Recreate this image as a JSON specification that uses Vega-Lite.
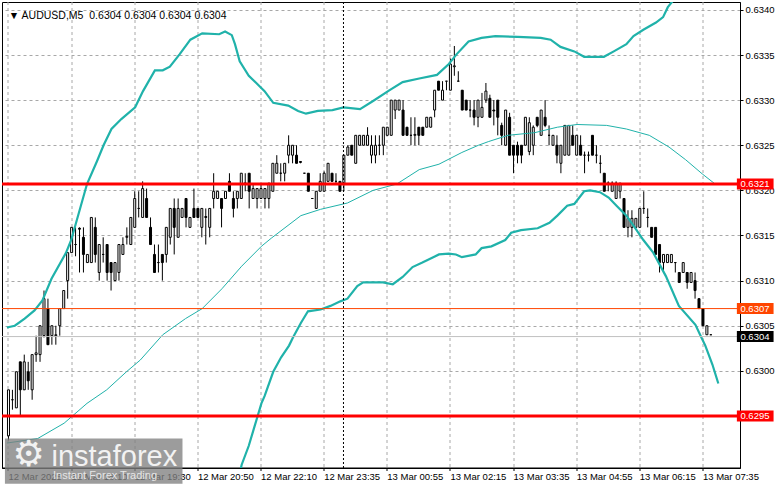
{
"$schema": "https://vega.github.io/schema/vega-lite/v6.json",
"width": 738, "height": 466,
"autosize": {"type": "none"},
"padding": {"left": 2, "top": 2, "right": 41, "bottom": 21},
"background": "white",
"config": {"view": {"stroke": "black", "strokeWidth": 1}, "font": "Liberation Sans"},
"datasets": {
"candles": [
{"i":0,"o":0.62928,"h":0.62979,"l":0.62923,"c":0.62979},
{"i":1,"o":0.62968,"h":0.62979,"l":0.62957,"c":0.62968},
{"i":2,"o":0.62959,"h":0.62999,"l":0.62959,"c":0.62999},
{"i":3,"o":0.63010,"h":0.63010,"l":0.62950,"c":0.62979},
{"i":4,"o":0.62979,"h":0.63018,"l":0.62979,"c":0.63010},
{"i":5,"o":0.62999,"h":0.63010,"l":0.62979,"c":0.62989},
{"i":6,"o":0.62979,"h":0.63018,"l":0.62968,"c":0.63018},
{"i":7,"o":0.63018,"h":0.63039,"l":0.63010,"c":0.63020},
{"i":8,"o":0.63018,"h":0.63050,"l":0.63010,"c":0.63050},
{"i":9,"o":0.63039,"h":0.63089,"l":0.63037,"c":0.63080},
{"i":10,"o":0.63069,"h":0.63080,"l":0.63029,"c":0.63029},
{"i":11,"o":0.63039,"h":0.63050,"l":0.63029,"c":0.63050},
{"i":12,"o":0.63039,"h":0.63050,"l":0.63029,"c":0.63040},
{"i":13,"o":0.63050,"h":0.63069,"l":0.63039,"c":0.63069},
{"i":14,"o":0.63069,"h":0.63089,"l":0.63069,"c":0.63089},
{"i":15,"o":0.63100,"h":0.63131,"l":0.63080,"c":0.63131},
{"i":16,"o":0.63131,"h":0.63159,"l":0.63131,"c":0.63159},
{"i":17,"o":0.63140,"h":0.63159,"l":0.63127,"c":0.63140},
{"i":18,"o":0.63158,"h":0.63159,"l":0.63109,"c":0.63157},
{"i":19,"o":0.63148,"h":0.63159,"l":0.63109,"c":0.63129},
{"i":20,"o":0.63120,"h":0.63129,"l":0.63120,"c":0.63129},
{"i":21,"o":0.63120,"h":0.63170,"l":0.63120,"c":0.63170},
{"i":22,"o":0.63159,"h":0.63170,"l":0.63120,"c":0.63129},
{"i":23,"o":0.63109,"h":0.63140,"l":0.63100,"c":0.63140},
{"i":24,"o":0.63129,"h":0.63148,"l":0.63120,"c":0.63129},
{"i":25,"o":0.63140,"h":0.63140,"l":0.63100,"c":0.63109},
{"i":26,"o":0.63120,"h":0.63120,"l":0.63089,"c":0.63109},
{"i":27,"o":0.63100,"h":0.63120,"l":0.63100,"c":0.63120},
{"i":28,"o":0.63109,"h":0.63140,"l":0.63100,"c":0.63140},
{"i":29,"o":0.63129,"h":0.63148,"l":0.63129,"c":0.63140},
{"i":30,"o":0.63148,"h":0.63159,"l":0.63140,"c":0.63149},
{"i":31,"o":0.63140,"h":0.63170,"l":0.63140,"c":0.63170},
{"i":32,"o":0.63159,"h":0.63199,"l":0.63159,"c":0.63191},
{"i":33,"o":0.63180,"h":0.63199,"l":0.63170,"c":0.63180},
{"i":34,"o":0.63170,"h":0.63210,"l":0.63170,"c":0.63202},
{"i":35,"o":0.63191,"h":0.63202,"l":0.63170,"c":0.63170},
{"i":36,"o":0.63159,"h":0.63170,"l":0.63140,"c":0.63140},
{"i":37,"o":0.63129,"h":0.63140,"l":0.63109,"c":0.63109},
{"i":38,"o":0.63120,"h":0.63140,"l":0.63109,"c":0.63120},
{"i":39,"o":0.63129,"h":0.63129,"l":0.63100,"c":0.63120},
{"i":40,"o":0.63129,"h":0.63159,"l":0.63120,"c":0.63159},
{"i":41,"o":0.63148,"h":0.63180,"l":0.63140,"c":0.63180},
{"i":42,"o":0.63180,"h":0.63191,"l":0.63129,"c":0.63159},
{"i":43,"o":0.63148,"h":0.63191,"l":0.63148,"c":0.63180},
{"i":44,"o":0.63170,"h":0.63180,"l":0.63170,"c":0.63180},
{"i":45,"o":0.63191,"h":0.63191,"l":0.63159,"c":0.63170},
{"i":46,"o":0.63159,"h":0.63170,"l":0.63159,"c":0.63170},
{"i":47,"o":0.63180,"h":0.63202,"l":0.63170,"c":0.63170},
{"i":48,"o":0.63180,"h":0.63180,"l":0.63170,"c":0.63170},
{"i":49,"o":0.63159,"h":0.63180,"l":0.63148,"c":0.63180},
{"i":50,"o":0.63171,"h":0.63180,"l":0.63140,"c":0.63170},
{"i":51,"o":0.63159,"h":0.63180,"l":0.63148,"c":0.63180},
{"i":52,"o":0.63191,"h":0.63219,"l":0.63180,"c":0.63199},
{"i":53,"o":0.63191,"h":0.63199,"l":0.63191,"c":0.63199},
{"i":54,"o":0.63191,"h":0.63191,"l":0.63159,"c":0.63180},
{"i":55,"o":0.63191,"h":0.63199,"l":0.63191,"c":0.63199},
{"i":56,"o":0.63210,"h":0.63219,"l":0.63199,"c":0.63199},
{"i":57,"o":0.63191,"h":0.63199,"l":0.63170,"c":0.63180},
{"i":58,"o":0.63191,"h":0.63199,"l":0.63180,"c":0.63199},
{"i":59,"o":0.63191,"h":0.63219,"l":0.63191,"c":0.63219},
{"i":60,"o":0.63208,"h":0.63219,"l":0.63199,"c":0.63208},
{"i":61,"o":0.63219,"h":0.63219,"l":0.63180,"c":0.63199},
{"i":62,"o":0.63191,"h":0.63208,"l":0.63191,"c":0.63202},
{"i":63,"o":0.63191,"h":0.63202,"l":0.63180,"c":0.63202},
{"i":64,"o":0.63191,"h":0.63208,"l":0.63191,"c":0.63202},
{"i":65,"o":0.63191,"h":0.63202,"l":0.63180,"c":0.63202},
{"i":66,"o":0.63191,"h":0.63208,"l":0.63180,"c":0.63208},
{"i":67,"o":0.63199,"h":0.63230,"l":0.63199,"c":0.63230},
{"i":68,"o":0.63219,"h":0.63239,"l":0.63219,"c":0.63230},
{"i":69,"o":0.63219,"h":0.63230,"l":0.63210,"c":0.63219},
{"i":70,"o":0.63219,"h":0.63230,"l":0.63210,"c":0.63230},
{"i":71,"o":0.63239,"h":0.63261,"l":0.63230,"c":0.63250},
{"i":72,"o":0.63239,"h":0.63250,"l":0.63230,"c":0.63250},
{"i":73,"o":0.63239,"h":0.63250,"l":0.63230,"c":0.63230},
{"i":74,"o":0.63232,"h":0.63232,"l":0.63230,"c":0.63231},
{"i":75,"o":0.63219,"h":0.63219,"l":0.63219,"c":0.63219},
{"i":76,"o":0.63219,"h":0.63219,"l":0.63199,"c":0.63199},
{"i":77,"o":0.63191,"h":0.63191,"l":0.63191,"c":0.63191},
{"i":78,"o":0.63180,"h":0.63199,"l":0.63180,"c":0.63199},
{"i":79,"o":0.63199,"h":0.63219,"l":0.63199,"c":0.63210},
{"i":80,"o":0.63199,"h":0.63221,"l":0.63199,"c":0.63219},
{"i":81,"o":0.63210,"h":0.63230,"l":0.63210,"c":0.63230},
{"i":82,"o":0.63219,"h":0.63219,"l":0.63210,"c":0.63210},
{"i":83,"o":0.63210,"h":0.63219,"l":0.63208,"c":0.63210},
{"i":84,"o":0.63210,"h":0.63210,"l":0.63199,"c":0.63199},
{"i":85,"o":0.63207,"h":0.63239,"l":0.63199,"c":0.63239},
{"i":86,"o":0.63239,"h":0.63250,"l":0.63239,"c":0.63248},
{"i":87,"o":0.63250,"h":0.63250,"l":0.63239,"c":0.63239},
{"i":88,"o":0.63230,"h":0.63261,"l":0.63230,"c":0.63261},
{"i":89,"o":0.63250,"h":0.63261,"l":0.63250,"c":0.63261},
{"i":90,"o":0.63250,"h":0.63261,"l":0.63250,"c":0.63261},
{"i":91,"o":0.63250,"h":0.63270,"l":0.63250,"c":0.63261},
{"i":92,"o":0.63239,"h":0.63261,"l":0.63230,"c":0.63250},
{"i":93,"o":0.63239,"h":0.63261,"l":0.63230,"c":0.63250},
{"i":94,"o":0.63250,"h":0.63261,"l":0.63239,"c":0.63250},
{"i":95,"o":0.63250,"h":0.63270,"l":0.63239,"c":0.63270},
{"i":96,"o":0.63261,"h":0.63270,"l":0.63261,"c":0.63270},
{"i":97,"o":0.63261,"h":0.63300,"l":0.63261,"c":0.63300},
{"i":98,"o":0.63289,"h":0.63300,"l":0.63279,"c":0.63300},
{"i":99,"o":0.63289,"h":0.63300,"l":0.63289,"c":0.63300},
{"i":100,"o":0.63289,"h":0.63300,"l":0.63261,"c":0.63261},
{"i":101,"o":0.63270,"h":0.63270,"l":0.63261,"c":0.63261},
{"i":102,"o":0.63261,"h":0.63281,"l":0.63250,"c":0.63261},
{"i":103,"o":0.63261,"h":0.63281,"l":0.63250,"c":0.63262},
{"i":104,"o":0.63270,"h":0.63270,"l":0.63250,"c":0.63261},
{"i":105,"o":0.63270,"h":0.63270,"l":0.63261,"c":0.63261},
{"i":106,"o":0.63270,"h":0.63281,"l":0.63270,"c":0.63281},
{"i":107,"o":0.63270,"h":0.63281,"l":0.63270,"c":0.63281},
{"i":108,"o":0.63289,"h":0.63311,"l":0.63281,"c":0.63311},
{"i":109,"o":0.63321,"h":0.63321,"l":0.63311,"c":0.63311},
{"i":110,"o":0.63300,"h":0.63321,"l":0.63300,"c":0.63311},
{"i":111,"o":0.63321,"h":0.63321,"l":0.63311,"c":0.63321},
{"i":112,"o":0.63311,"h":0.63346,"l":0.63311,"c":0.63340},
{"i":113,"o":0.63337,"h":0.63360,"l":0.63327,"c":0.63338},
{"i":114,"o":0.63321,"h":0.63332,"l":0.63321,"c":0.63321},
{"i":115,"o":0.63311,"h":0.63311,"l":0.63289,"c":0.63289},
{"i":116,"o":0.63300,"h":0.63300,"l":0.63289,"c":0.63289},
{"i":117,"o":0.63289,"h":0.63300,"l":0.63281,"c":0.63289},
{"i":118,"o":0.63289,"h":0.63300,"l":0.63272,"c":0.63281},
{"i":119,"o":0.63281,"h":0.63300,"l":0.63270,"c":0.63300},
{"i":120,"o":0.63281,"h":0.63308,"l":0.63281,"c":0.63292},
{"i":121,"o":0.63300,"h":0.63319,"l":0.63297,"c":0.63310},
{"i":122,"o":0.63302,"h":0.63306,"l":0.63281,"c":0.63281},
{"i":123,"o":0.63289,"h":0.63300,"l":0.63272,"c":0.63288},
{"i":124,"o":0.63300,"h":0.63300,"l":0.63261,"c":0.63281},
{"i":125,"o":0.63272,"h":0.63275,"l":0.63250,"c":0.63261},
{"i":126,"o":0.63250,"h":0.63289,"l":0.63250,"c":0.63289},
{"i":127,"o":0.63281,"h":0.63286,"l":0.63239,"c":0.63239},
{"i":128,"o":0.63250,"h":0.63250,"l":0.63219,"c":0.63239},
{"i":129,"o":0.63250,"h":0.63254,"l":0.63230,"c":0.63239},
{"i":130,"o":0.63250,"h":0.63250,"l":0.63230,"c":0.63239},
{"i":131,"o":0.63250,"h":0.63281,"l":0.63250,"c":0.63281},
{"i":132,"o":0.63243,"h":0.63281,"l":0.63239,"c":0.63275},
{"i":133,"o":0.63250,"h":0.63272,"l":0.63239,"c":0.63270},
{"i":134,"o":0.63281,"h":0.63281,"l":0.63270,"c":0.63272},
{"i":135,"o":0.63261,"h":0.63289,"l":0.63261,"c":0.63289},
{"i":136,"o":0.63281,"h":0.63300,"l":0.63270,"c":0.63272},
{"i":137,"o":0.63261,"h":0.63272,"l":0.63250,"c":0.63261},
{"i":138,"o":0.63250,"h":0.63261,"l":0.63250,"c":0.63261},
{"i":139,"o":0.63250,"h":0.63261,"l":0.63230,"c":0.63239},
{"i":140,"o":0.63230,"h":0.63250,"l":0.63219,"c":0.63250},
{"i":141,"o":0.63239,"h":0.63272,"l":0.63239,"c":0.63272},
{"i":142,"o":0.63239,"h":0.63272,"l":0.63239,"c":0.63272},
{"i":143,"o":0.63261,"h":0.63272,"l":0.63250,"c":0.63250},
{"i":144,"o":0.63239,"h":0.63261,"l":0.63239,"c":0.63261},
{"i":145,"o":0.63250,"h":0.63261,"l":0.63239,"c":0.63239},
{"i":146,"o":0.63239,"h":0.63243,"l":0.63219,"c":0.63239},
{"i":147,"o":0.63239,"h":0.63243,"l":0.63232,"c":0.63239},
{"i":148,"o":0.63261,"h":0.63261,"l":0.63239,"c":0.63239},
{"i":149,"o":0.63239,"h":0.63250,"l":0.63230,"c":0.63239},
{"i":150,"o":0.63230,"h":0.63239,"l":0.63219,"c":0.63230},
{"i":151,"o":0.63219,"h":0.63219,"l":0.63199,"c":0.63199},
{"i":152,"o":0.63208,"h":0.63210,"l":0.63199,"c":0.63208},
{"i":153,"o":0.63199,"h":0.63210,"l":0.63199,"c":0.63208},
{"i":154,"o":0.63191,"h":0.63210,"l":0.63191,"c":0.63208},
{"i":155,"o":0.63199,"h":0.63208,"l":0.63191,"c":0.63208},
{"i":156,"o":0.63191,"h":0.63191,"l":0.63159,"c":0.63159},
{"i":157,"o":0.63159,"h":0.63178,"l":0.63148,"c":0.63169},
{"i":158,"o":0.63159,"h":0.63178,"l":0.63148,"c":0.63169},
{"i":159,"o":0.63159,"h":0.63169,"l":0.63159,"c":0.63169},
{"i":160,"o":0.63159,"h":0.63180,"l":0.63159,"c":0.63180},
{"i":161,"o":0.63180,"h":0.63199,"l":0.63174,"c":0.63180},
{"i":162,"o":0.63170,"h":0.63180,"l":0.63159,"c":0.63170},
{"i":163,"o":0.63159,"h":0.63159,"l":0.63148,"c":0.63148},
{"i":164,"o":0.63159,"h":0.63159,"l":0.63129,"c":0.63129},
{"i":165,"o":0.63140,"h":0.63140,"l":0.63109,"c":0.63120},
{"i":166,"o":0.63120,"h":0.63129,"l":0.63109,"c":0.63129},
{"i":167,"o":0.63120,"h":0.63129,"l":0.63120,"c":0.63129},
{"i":168,"o":0.63120,"h":0.63129,"l":0.63120,"c":0.63129},
{"i":169,"o":0.63120,"h":0.63120,"l":0.63109,"c":0.63120},
{"i":170,"o":0.63109,"h":0.63109,"l":0.63098,"c":0.63098},
{"i":171,"o":0.63109,"h":0.63120,"l":0.63109,"c":0.63120},
{"i":172,"o":0.63109,"h":0.63109,"l":0.63091,"c":0.63098},
{"i":173,"o":0.63098,"h":0.63109,"l":0.63098,"c":0.63109},
{"i":174,"o":0.63100,"h":0.63109,"l":0.63080,"c":0.63089},
{"i":175,"o":0.63080,"h":0.63080,"l":0.63069,"c":0.63069},
{"i":176,"o":0.63069,"h":0.63069,"l":0.63050,"c":0.63050},
{"i":177,"o":0.63040,"h":0.63050,"l":0.63040,"c":0.63050},
{"i":178,"o":0.63040,"h":0.63040,"l":0.63040,"c":0.63040}
],
"bands": [
{"s":"up","i":-0.4,"p":0.63048},{"s":"up","i":1.6,"p":0.63050},{"s":"up","i":4.1,"p":0.63058},{"s":"up","i":6.6,"p":0.63067},{"s":"up","i":8.6,"p":0.63078},{"s":"up","i":10.9,"p":0.63102},{"s":"up","i":14.6,"p":0.63131},{"s":"up","i":15.9,"p":0.63145},{"s":"up","i":19.9,"p":0.63207},{"s":"up","i":22.4,"p":0.63232},{"s":"up","i":24.1,"p":0.63250},{"s":"up","i":26.1,"p":0.63268},{"s":"up","i":28.6,"p":0.63279},{"s":"up","i":32.1,"p":0.63292},{"s":"up","i":34.1,"p":0.63310},{"s":"up","i":37.1,"p":0.63333},{"s":"up","i":39.1,"p":0.63333},{"s":"up","i":40.9,"p":0.63337},{"s":"up","i":43.4,"p":0.63351},{"s":"up","i":46.1,"p":0.63367},{"s":"up","i":49.1,"p":0.63374},{"s":"up","i":53.4,"p":0.63373},{"s":"up","i":54.9,"p":0.63376},{"s":"up","i":56.6,"p":0.63372},{"s":"up","i":57.4,"p":0.63362},{"s":"up","i":58.6,"p":0.63343},{"s":"up","i":60.9,"p":0.63327},{"s":"up","i":64.9,"p":0.63310},{"s":"up","i":67.1,"p":0.63297},{"s":"up","i":70.9,"p":0.63294},{"s":"up","i":73.4,"p":0.63288},{"s":"up","i":75.4,"p":0.63285},{"s":"up","i":78.4,"p":0.63288},{"s":"up","i":82.1,"p":0.63289},{"s":"up","i":84.9,"p":0.63292},{"s":"up","i":89.1,"p":0.63290},{"s":"up","i":92.4,"p":0.63299},{"s":"up","i":96.6,"p":0.63311},{"s":"up","i":99.9,"p":0.63320},{"s":"up","i":104.1,"p":0.63324},{"s":"up","i":108.6,"p":0.63328},{"s":"up","i":111.6,"p":0.63340},{"s":"up","i":113.6,"p":0.63351},{"s":"up","i":116.6,"p":0.63365},{"s":"up","i":119.9,"p":0.63369},{"s":"up","i":123.4,"p":0.63371},{"s":"up","i":129.1,"p":0.63370},{"s":"up","i":134.9,"p":0.63369},{"s":"up","i":137.4,"p":0.63367},{"s":"up","i":139.9,"p":0.63359},{"s":"up","i":143.4,"p":0.63354},{"s":"up","i":145.9,"p":0.63348},{"s":"up","i":150.9,"p":0.63348},{"s":"up","i":153.4,"p":0.63354},{"s":"up","i":156.6,"p":0.63362},{"s":"up","i":158.4,"p":0.63371},{"s":"up","i":160.9,"p":0.63378},{"s":"up","i":164.1,"p":0.63386},{"s":"up","i":165.9,"p":0.63392},{"s":"up","i":167.1,"p":0.63403},{"s":"up","i":169.1,"p":0.63414},{"s":"up","i":174.1,"p":0.63433},{"s":"up","i":179.1,"p":0.63449},
{"s":"lo","i":54.9,"p":0.62814},{"s":"lo","i":59.1,"p":0.62896},{"s":"lo","i":60.9,"p":0.62917},{"s":"lo","i":62.4,"p":0.62939},{"s":"lo","i":64.1,"p":0.62964},{"s":"lo","i":64.9,"p":0.62972},{"s":"lo","i":67.1,"p":0.62999},{"s":"lo","i":69.1,"p":0.63015},{"s":"lo","i":71.1,"p":0.63028},{"s":"lo","i":72.1,"p":0.63037},{"s":"lo","i":74.1,"p":0.63053},{"s":"lo","i":75.9,"p":0.63066},{"s":"lo","i":79.1,"p":0.63068},{"s":"lo","i":81.6,"p":0.63072},{"s":"lo","i":84.1,"p":0.63077},{"s":"lo","i":85.9,"p":0.63080},{"s":"lo","i":88.4,"p":0.63094},{"s":"lo","i":89.9,"p":0.63098},{"s":"lo","i":94.9,"p":0.63098},{"s":"lo","i":97.4,"p":0.63096},{"s":"lo","i":99.9,"p":0.63104},{"s":"lo","i":102.4,"p":0.63115},{"s":"lo","i":104.9,"p":0.63120},{"s":"lo","i":109.1,"p":0.63129},{"s":"lo","i":111.6,"p":0.63130},{"s":"lo","i":113.4,"p":0.63129},{"s":"lo","i":114.9,"p":0.63126},{"s":"lo","i":118.4,"p":0.63129},{"s":"lo","i":119.9,"p":0.63136},{"s":"lo","i":122.4,"p":0.63138},{"s":"lo","i":125.9,"p":0.63145},{"s":"lo","i":127.4,"p":0.63153},{"s":"lo","i":129.9,"p":0.63156},{"s":"lo","i":134.1,"p":0.63158},{"s":"lo","i":137.1,"p":0.63164},{"s":"lo","i":139.1,"p":0.63172},{"s":"lo","i":141.6,"p":0.63183},{"s":"lo","i":143.4,"p":0.63185},{"s":"lo","i":145.9,"p":0.63199},{"s":"lo","i":147.4,"p":0.63200},{"s":"lo","i":149.9,"p":0.63198},{"s":"lo","i":152.1,"p":0.63192},{"s":"lo","i":154.1,"p":0.63183},{"s":"lo","i":156.6,"p":0.63172},{"s":"lo","i":158.4,"p":0.63161},{"s":"lo","i":160.9,"p":0.63145},{"s":"lo","i":163.4,"p":0.63131},{"s":"lo","i":166.6,"p":0.63105},{"s":"lo","i":169.9,"p":0.63072},{"s":"lo","i":174.1,"p":0.63051},{"s":"lo","i":175.4,"p":0.63039},{"s":"lo","i":176.6,"p":0.63028},{"s":"lo","i":178.4,"p":0.63007},{"s":"lo","i":179.9,"p":0.62986},
{"s":"mid","i":-0.4,"p":0.62920},{"s":"mid","i":7.4,"p":0.62925},{"s":"mid","i":14.1,"p":0.62942},{"s":"mid","i":19.9,"p":0.62964},{"s":"mid","i":24.9,"p":0.62979},{"s":"mid","i":29.9,"p":0.62999},{"s":"mid","i":33.4,"p":0.63012},{"s":"mid","i":39.1,"p":0.63040},{"s":"mid","i":44.9,"p":0.63058},{"s":"mid","i":49.1,"p":0.63069},{"s":"mid","i":54.1,"p":0.63091},{"s":"mid","i":59.1,"p":0.63116},{"s":"mid","i":64.1,"p":0.63138},{"s":"mid","i":66.6,"p":0.63147},{"s":"mid","i":74.1,"p":0.63172},{"s":"mid","i":79.1,"p":0.63179},{"s":"mid","i":85.9,"p":0.63186},{"s":"mid","i":92.4,"p":0.63200},{"s":"mid","i":98.4,"p":0.63207},{"s":"mid","i":104.1,"p":0.63223},{"s":"mid","i":109.1,"p":0.63229},{"s":"mid","i":114.9,"p":0.63242},{"s":"mid","i":119.1,"p":0.63250},{"s":"mid","i":121.6,"p":0.63254},{"s":"mid","i":126.6,"p":0.63261},{"s":"mid","i":133.4,"p":0.63264},{"s":"mid","i":139.1,"p":0.63270},{"s":"mid","i":144.1,"p":0.63273},{"s":"mid","i":151.6,"p":0.63272},{"s":"mid","i":156.6,"p":0.63268},{"s":"mid","i":162.4,"p":0.63261},{"s":"mid","i":167.4,"p":0.63248},{"s":"mid","i":171.6,"p":0.63234},{"s":"mid","i":175.9,"p":0.63218},{"s":"mid","i":179.1,"p":0.63207}
],
"levels": [
{"p":0.63207,"t":"0.6321","k":"r1"},
{"p":0.63069,"t":"0.6307","k":"o"},
{"p":0.63038,"t":"0.6304","k":"b"},
{"p":0.62950,"t":"0.6295","k":"r2"}
]
},
"layer": [
{
"data": {"name": "candles"},
"mark": {"type": "rule", "color": "black", "strokeWidth": 1},
"encoding": {
"x": {"field": "i", "type": "quantitative",
"scale": {"domain": [-0.375, 184.125], "nice": false, "zero": false},
"axis": {"values": [0,8,16,24,32,40,48,56,64,72,80,88,96,104,112,120,128,136,144,152,160,168,176],
"grid": true, "gridColor": "#A8A8A8", "gridDash": [3,3], "gridWidth": 1, "gridOpacity": 1, "translate": 0,
"domainColor": "black", "tickColor": "black", "tickSize": 3,
"tickOpacity": {"condition": {"test": "datum.value % 16 === 0", "value": 1}, "value": 0},
"labelExpr": "datum.value % 16 === 0 ? ['12 Mar 2025','12 Mar 18:10','12 Mar 19:30','12 Mar 20:50','12 Mar 22:10','12 Mar 23:35','13 Mar 00:55','13 Mar 02:15','13 Mar 03:35','13 Mar 04:55','13 Mar 06:15','13 Mar 07:35'][datum.value/16] : ''",
"labelAlign": "left", "labelFlush": false, "labelOverlap": false, "labelBound": false,
"labelFont": "Liberation Sans", "labelFontSize": 9.5, "labelColor": "black", "labelPadding": 1,
"title": null}},
"y": {"field": "l", "type": "quantitative",
"scale": {"domain": [0.628979, 0.634032], "nice": false, "zero": false},
"axis": {"orient": "right", "values": [0.63,0.6305,0.631,0.6315,0.632,0.6325,0.633,0.6335,0.634], "format": ".4f",
"grid": true, "gridColor": "#A8A8A8", "gridDash": [3,3], "gridWidth": 1, "gridOpacity": 1,
"domainColor": "black", "tickColor": "black", "tickSize": 3,
"labelFont": "Liberation Sans", "labelFontSize": 9.5, "labelColor": "black", "labelPadding": 2,
"title": null}},
"y2": {"field": "h"}
}
},
{
"data": {"name": "candles"},
"mark": {"type": "bar", "size": 2, "stroke": "black", "strokeWidth": 1},
"encoding": {
"x": {"field": "i", "type": "quantitative", "title": null},
"y": {"field": "o", "type": "quantitative", "title": null},
"y2": {"field": "c"},
"fill": {"condition": {"test": "datum.c < datum.o", "value": "black"}, "value": "white"}
}
},
{
"data": {"name": "bands"},
"transform": [{"filter": "datum.s !== 'mid'"}],
"mark": {"type": "line", "color": "#20B2AA", "strokeWidth": 2.2, "clip": true},
"encoding": {
"x": {"field": "i", "type": "quantitative", "title": null},
"y": {"field": "p", "type": "quantitative", "title": null},
"detail": {"field": "s"}
}
},
{
"data": {"name": "bands"},
"transform": [{"filter": "datum.s === 'mid'"}],
"mark": {"type": "line", "color": "#20B2AA", "strokeWidth": 1, "clip": true},
"encoding": {
"x": {"field": "i", "type": "quantitative", "title": null},
"y": {"field": "p", "type": "quantitative", "title": null}
}
},
{
"data": {"values": [{}]},
"mark": {"type": "rule", "color": "black", "strokeWidth": 1, "strokeDash": [2,2]},
"encoding": {
"x": {"datum": 84.9, "type": "quantitative", "title": null}
}
},
{
"data": {"name": "levels"},
"mark": {"type": "rule"},
"encoding": {
"y": {"field": "p", "type": "quantitative", "title": null},
"color": {"condition": [{"test": "datum.k === 'o'", "value": "#FF4500"}, {"test": "datum.k === 'b'", "value": "#C0C0C0"}], "value": "#FF0000"},
"strokeWidth": {"condition": {"test": "datum.k === 'r1' || datum.k === 'r2'", "value": 3}, "value": 1}
}
},
{
"data": {"name": "levels"},
"mark": {"type": "bar", "size": 11},
"encoding": {
"x": {"datum": 184.6, "type": "quantitative", "title": null},
"x2": {"datum": 193.9},
"y": {"field": "p", "type": "quantitative", "title": null},
"color": {"condition": [{"test": "datum.k === 'o'", "value": "#FF4500"}, {"test": "datum.k === 'b'", "value": "#000000"}], "value": "#FF0000"}
}
},
{
"data": {"name": "levels"},
"mark": {"type": "text", "align": "left", "baseline": "middle", "color": "white", "font": "Liberation Sans", "fontSize": 9.5},
"encoding": {
"x": {"datum": 185.5, "type": "quantitative", "title": null},
"y": {"field": "p", "type": "quantitative", "title": null},
"text": {"field": "t"}
}
},
{
"data": {"values": [{"label": "▼ AUDUSD,M5\u00a0\u00a00.6304 0.6304 0.6304 0.6304"}]},
"mark": {"type": "text", "align": "left", "baseline": "middle", "color": "black", "font": "Liberation Sans, DejaVu Sans", "fontSize": 10.5},
"encoding": {
"x": {"datum": 0.1, "type": "quantitative", "title": null},
"y": {"datum": 0.633935, "type": "quantitative", "title": null},
"text": {"field": "label"}
}
},
{
"data": {"values": [{}]},
"mark": {"type": "rect", "color": "#808080", "opacity": 0.78},
"encoding": {
"x": {"datum": -0.9, "type": "quantitative", "title": null},
"x2": {"datum": 44.1},
"y": {"datum": 0.62925, "type": "quantitative", "title": null},
"y2": {"datum": 0.62875}
}
},
{
"data": {"values": [{"label": "⚙"}]},
"mark": {"type": "text", "align": "center", "baseline": "middle", "color": "#F2F2F2", "font": "DejaVu Sans", "fontSize": 36},
"encoding": {
"x": {"datum": 5.1, "type": "quantitative", "title": null},
"y": {"datum": 0.62907, "type": "quantitative", "title": null},
"text": {"field": "label"}
}
},
{
"data": {"values": [{"label": "instaforex"}]},
"mark": {"type": "text", "align": "left", "baseline": "middle", "color": "#F2F2F2", "font": "Liberation Sans", "fontSize": 29},
"encoding": {
"x": {"datum": 10.9, "type": "quantitative", "title": null},
"y": {"datum": 0.62905, "type": "quantitative", "title": null},
"text": {"field": "label"}
}
},
{
"data": {"values": [{"label": "Instant Forex Trading"}]},
"mark": {"type": "text", "align": "left", "baseline": "middle", "color": "#E6E6E6", "font": "Liberation Sans", "fontSize": 11},
"encoding": {
"x": {"datum": 11.3, "type": "quantitative", "title": null},
"y": {"datum": 0.62883, "type": "quantitative", "title": null},
"text": {"field": "label"}
}
}
]
}
